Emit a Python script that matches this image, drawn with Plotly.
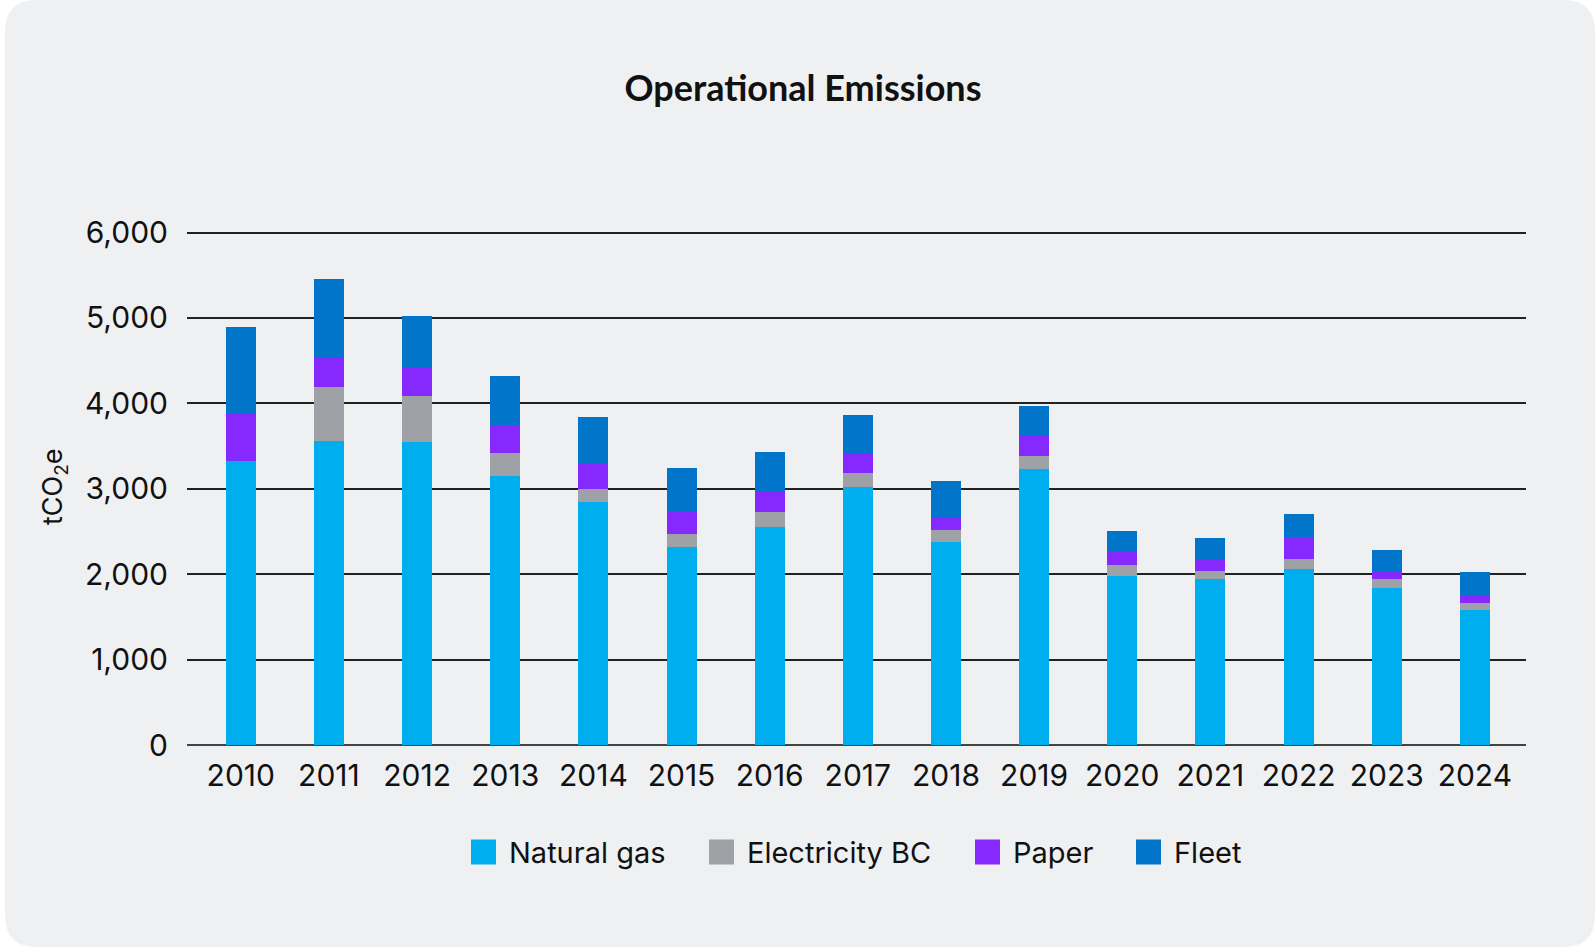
import plotly.graph_objects as go

# ---------------- data ----------------
years = ["2010", "2011", "2012", "2013", "2014", "2015", "2016", "2017",
         "2018", "2019", "2020", "2021", "2022", "2023", "2024"]
natural_gas = [3324, 3555, 3543, 3145, 2840, 2313, 2547, 3016, 2371, 3230, 1984, 1938, 2055, 1844, 1586]
electricity_bc = [0, 633, 539, 269, 152, 152, 176, 164, 141, 149, 129, 105, 117, 94, 82]
paper = [559, 351, 344, 332, 309, 273, 234, 238, 140, 234, 160, 133, 269, 82, 94]
fleet = [1008, 914, 594, 570, 535, 500, 469, 441, 434, 352, 227, 242, 258, 269, 258]

series_names = ["Natural gas", "Electricity BC", "Paper", "Fleet"]
series_values = [natural_gas, electricity_bc, paper, fleet]
series_colors = ["#00AEEF", "#9EA1A6", "#8629FF", "#0075C9"]

y_ticks = [0, 1000, 2000, 3000, 4000, 5000, 6000]
y_tick_labels = ["0", "1,000", "2,000", "3,000", "4,000", "5,000", "6,000"]

# ---------------- layout geometry (pixels) ----------------
W, H = 1595, 947
L, R, T, B = 187, 69, 224, 202
pw, ph = W - L - R, H - T - B


def px_x(x):
    return (x - L) / pw


def px_y(y):
    return (H - B - y) / ph


BG = "#EFF0F2"
FONT = "Inter, Roboto, sans-serif"

fig = go.Figure()
for name, vals, col in zip(series_names, series_values, series_colors):
    fig.add_trace(go.Bar(x=years, y=vals, name=name, marker_color=col,
                         marker_line_width=0, showlegend=False))

# rounded card background
x0, y0, x1, y1, r = 5, 0, 1595, 947, 32
path = (f"M {px_x(x0 + r)},{px_y(y0)} L {px_x(x1 - r)},{px_y(y0)} "
        f"Q {px_x(x1)},{px_y(y0)} {px_x(x1)},{px_y(y0 + r)} "
        f"L {px_x(x1)},{px_y(y1 - r)} Q {px_x(x1)},{px_y(y1)} {px_x(x1 - r)},{px_y(y1)} "
        f"L {px_x(x0 + r)},{px_y(y1)} Q {px_x(x0)},{px_y(y1)} {px_x(x0)},{px_y(y1 - r)} "
        f"L {px_x(x0)},{px_y(y0 + r)} Q {px_x(x0)},{px_y(y0)} {px_x(x0 + r)},{px_y(y0)} Z")
shapes = [dict(type="path", path=path, xref="paper", yref="paper",
               fillcolor=BG, line_width=0, layer="below")]

annotations = []
# custom legend
legend_sq_x = [471, 709, 975, 1136]
legend_y = 852
sq = 25
for name, col, sx in zip(series_names, series_colors, legend_sq_x):
    shapes.append(dict(type="rect", xref="paper", yref="paper",
                       x0=px_x(sx), x1=px_x(sx + sq),
                       y0=px_y(legend_y - sq / 2), y1=px_y(legend_y + sq / 2),
                       fillcolor=col, line_width=0))
    annotations.append(dict(text=name, xref="paper", yref="paper",
                            x=px_x(sx + sq + 11), y=px_y(legend_y),
                            xanchor="left", yanchor="middle", showarrow=False,
                            font=dict(family=FONT, size=29, color="#111111")))

# y-axis title
annotations.append(dict(text="tCO<sub>2</sub>e", xref="paper", yref="paper",
                        x=px_x(54), y=px_y(487), textangle=-90,
                        xanchor="center", yanchor="middle", showarrow=False,
                        font=dict(family=FONT, size=27, color="#111111")))

fig.update_layout(
    width=W, height=H,
    barmode="stack", bargap=0.66,
    paper_bgcolor="white", plot_bgcolor="rgba(0,0,0,0)",
    margin=dict(l=L, r=R, t=T, b=B, autoexpand=False),
    title=dict(text="<b>Operational Emissions</b>", x=803 / W, xanchor="center",
               y=1 - 88 / H, yanchor="middle", xref="container", yref="container",
               font=dict(family="Lato, sans-serif", size=36, color="#111111")),
    xaxis=dict(type="category", range=[-0.61, 14.58], showgrid=False,
               showline=False, ticks="outside", ticklen=4, tickcolor="rgba(0,0,0,0)",
               tickfont=dict(family=FONT, size=30, color="#111111")),
    yaxis=dict(range=[0, 6100], tickvals=y_ticks, ticktext=y_tick_labels,
               showgrid=True, gridcolor="#222222", gridwidth=1.5,
               zeroline=True, zerolinecolor="#444444", zerolinewidth=2,
               ticklabelstandoff=18,
               tickfont=dict(family=FONT, size=30, color="#111111")),
    shapes=shapes, annotations=annotations,
)

fig.write_html("out.html",
               config={"displayModeBar": False},
               post_script="document.body.style.margin='0';"
                           "document.body.style.overflow='hidden';")
